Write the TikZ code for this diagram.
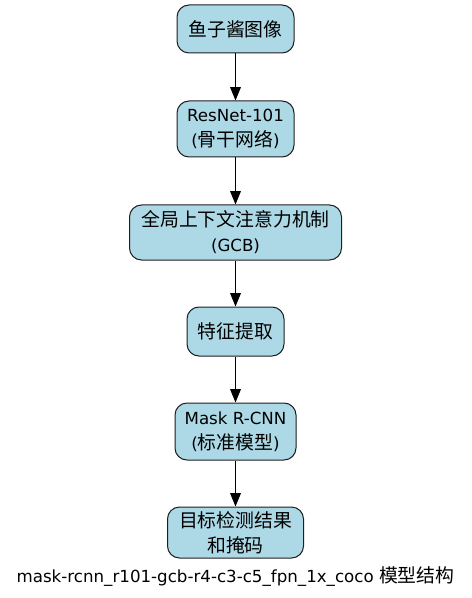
\documentclass[tikz,border=0pt]{standalone}
\usepackage{fontspec}
\setmainfont{DejaVu Sans}
\newfontfamily\cjk[Scale=1.13]{Noto Sans CJK SC}
\usetikzlibrary{arrows.meta}
\definecolor{boxfill}{RGB}{173,216,230}
\definecolor{boxline}{RGB}{30,30,30}
\begin{document}
\begin{tikzpicture}[x=0.75pt,y=-0.75pt,
  box/.style={draw=boxline, line width=0.75pt, fill=boxfill, rounded corners=9pt, align=center, inner sep=0pt,
    font=\fontsize{12.5}{18.75}\selectfont},
  arr/.style={-{Triangle[length=10pt,width=8pt]}, line width=0.75pt, draw=black}]
\useasboundingbox (0,0) rectangle (471,598);
\node[box, minimum width=87.75pt, minimum height=36pt] (n1) at (235.5,29) {{\cjk 鱼子酱图像}};
\node[box, minimum width=87.75pt, minimum height=42pt] (n2) at (235.5,129) {ResNet-101\\({\cjk 骨干网络})};
\node[box, minimum width=159pt, minimum height=41.25pt] (n3) at (235.5,232.5) {{\cjk 全局上下文注意力机制}\\(GCB)};
\node[box, minimum width=72.75pt, minimum height=36.75pt] (n4) at (235.5,331.5) {{\cjk 特征提取}};
\node[box, minimum width=90.75pt, minimum height=42.75pt] (n5) at (235.5,431.5) {Mask R-CNN\\({\cjk 标准模型})};
\node[box, minimum width=102pt, minimum height=38.25pt] (n6) at (235.5,532.5) {{\cjk 目标检测结果}\\{\cjk 和掩码}};
\node[font=\fontsize{12.5}{14}\selectfont, inner sep=0pt] (cap) at (235.5,577) {mask-rcnn\_r101-gcb-r4-c3-c5\_fpn\_1x\_coco {\cjk 模型结构}};
\draw[arr] (n1) -- (n2);
\draw[arr] (n2) -- (n3);
\draw[arr] (n3) -- (n4);
\draw[arr] (n4) -- (n5);
\draw[arr] (n5) -- (n6);
\end{tikzpicture}
\end{document}
